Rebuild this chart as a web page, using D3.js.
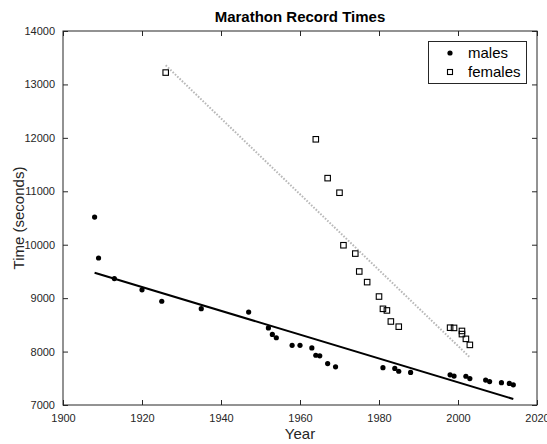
<!DOCTYPE html>
<html>
<head>
<meta charset="utf-8">
<script src="https://cdn.jsdelivr.net/npm/d3@7"></script>
<style>
  html, body { margin: 0; padding: 0; background: #fff; }
  svg { display: block; font-family: "Liberation Sans", Arial, sans-serif; }
</style>
</head>
<body>
<svg id="chart" width="547" height="444"></svg>
<script>
// World record progression, marathon (time in seconds)
const maleYears = [1908, 1909, 1913, 1920, 1925, 1935, 1947, 1952, 1953, 1954,
  1958, 1960, 1963, 1964, 1965, 1967, 1969, 1981, 1984, 1985,
  1988, 1998, 1999, 2002, 2003, 2007, 2008, 2011, 2013, 2014];
const maleTimes = [10518, 9751, 9367, 9156, 8942, 8802, 8739, 8442, 8320, 8259,
  8117, 8116, 8068, 7931, 7920, 7776, 7714, 7698, 7685, 7632,
  7610, 7565, 7542, 7538, 7495, 7466, 7439, 7418, 7403, 7377];

const femaleYears = [1926, 1964, 1967, 1970, 1971, 1974, 1975, 1977, 1980, 1981,
  1982, 1983, 1985, 1998, 1999, 2001, 2001, 2002, 2003];
const femaleTimes = [13222, 11973, 11246, 10973, 9990, 9834, 9499, 9300, 9030, 8800,
  8770, 8563, 8466, 8447, 8443, 8386, 8327, 8238, 8125];

const xTicks = [1900, 1920, 1940, 1960, 1980, 2000, 2020];
const yTicks = [7000, 8000, 9000, 10000, 11000, 12000, 13000, 14000];
const seriesNames = ["males", "females"];

const svg = d3.select("#chart");
const plot = { left: 63, right: 537, top: 31, bottom: 405 };
const axisColor = "#262626";

const x = d3.scaleLinear().domain([1900, 2020]).range([plot.left, plot.right]);
const y = d3.scaleLinear().domain([7000, 14000]).range([plot.bottom, plot.top]);

// least-squares line over the span of each series
function fitLine(xs, ys) {
  const mx = d3.mean(xs), my = d3.mean(ys);
  let sxy = 0, sxx = 0;
  xs.forEach((v, i) => { sxy += (v - mx) * (ys[i] - my); sxx += (v - mx) * (v - mx); });
  const b = sxy / sxx, a = my - b * mx;
  const x0 = d3.min(xs), x1 = d3.max(xs);
  return [[x0, a + b * x0], [x1, a + b * x1]];
}

const line = d3.line().x(d => x(d[0])).y(d => y(d[1]));

// axes: ticks inward on all four sides
const tickLen = 5;
svg.append("g").attr("transform", `translate(0,${plot.bottom})`)
  .call(d3.axisBottom(x).tickValues(xTicks).tickFormat(d3.format("d")).tickSizeInner(-tickLen).tickSizeOuter(0).tickPadding(9))
  .call(g => g.select(".domain").remove());
svg.append("g").attr("transform", `translate(0,${plot.top})`)
  .call(d3.axisTop(x).tickValues(xTicks).tickFormat("").tickSizeInner(-tickLen).tickSizeOuter(0))
  .call(g => g.select(".domain").remove());
svg.append("g").attr("transform", `translate(${plot.left},0)`)
  .call(d3.axisLeft(y).tickValues(yTicks).tickFormat(d3.format("d")).tickSizeInner(-tickLen).tickSizeOuter(0).tickPadding(8))
  .call(g => g.select(".domain").remove());
svg.append("g").attr("transform", `translate(${plot.right},0)`)
  .call(d3.axisRight(y).tickValues(yTicks).tickFormat("").tickSizeInner(-tickLen).tickSizeOuter(0))
  .call(g => g.select(".domain").remove());

svg.selectAll(".tick line").attr("stroke", axisColor);
svg.selectAll(".tick text").attr("fill", axisColor).style("font-size", "11px")
  .style("font-family", "'Liberation Sans', Arial, sans-serif");

svg.append("rect")
  .attr("x", plot.left).attr("y", plot.top)
  .attr("width", plot.right - plot.left).attr("height", plot.bottom - plot.top)
  .attr("fill", "none").attr("stroke", axisColor).attr("stroke-width", 1);

// trend lines
svg.append("path").datum(fitLine(maleYears, maleTimes))
  .attr("d", line).attr("fill", "none").attr("stroke", "#000").attr("stroke-width", 2);
svg.append("path").datum(fitLine(femaleYears, femaleTimes))
  .attr("d", line).attr("fill", "none").attr("stroke", "#b8b8b8")
  .attr("stroke-width", 2).attr("stroke-dasharray", "1.6,1.6");

// markers
svg.append("g").selectAll("circle").data(maleYears.map((v, i) => [v, maleTimes[i]]))
  .join("circle").attr("cx", d => x(d[0])).attr("cy", d => y(d[1])).attr("r", 2.6).attr("fill", "#000");

const sq = 5.5;
svg.append("g").selectAll("rect").data(femaleYears.map((v, i) => [v, femaleTimes[i]]))
  .join("rect").attr("x", d => x(d[0]) - sq / 2).attr("y", d => y(d[1]) - sq / 2)
  .attr("width", sq).attr("height", sq).attr("fill", "none").attr("stroke", "#000").attr("stroke-width", 1.1);

// title and axis labels
svg.append("text").attr("x", (plot.left + plot.right) / 2).attr("y", 22)
  .attr("text-anchor", "middle").style("font-size", "15px").style("font-weight", "bold").attr("fill", "#000")
  .text("Marathon Record Times");
svg.append("text").attr("x", (plot.left + plot.right) / 2).attr("y", 439)
  .attr("text-anchor", "middle").style("font-size", "15px").attr("fill", axisColor).text("Year");
svg.append("text").attr("transform", `translate(24,${(plot.top + plot.bottom) / 2}) rotate(-90)`)
  .attr("text-anchor", "middle").style("font-size", "15px").attr("fill", axisColor).text("Time (seconds)");

// legend
const lg = svg.append("g");
lg.append("rect").attr("x", 428.5).attr("y", 41.5).attr("width", 98).attr("height", 42)
  .attr("fill", "#fff").attr("stroke", axisColor).attr("stroke-width", 1);
lg.append("circle").attr("cx", 450).attr("cy", 53).attr("r", 2.6).attr("fill", "#000");
lg.append("rect").attr("x", 447.5).attr("y", 69.5).attr("width", 5).attr("height", 5)
  .attr("fill", "none").attr("stroke", "#000").attr("stroke-width", 1.1);
lg.selectAll("text.lab").data(seriesNames).join("text").attr("class", "lab")
  .attr("x", 468).attr("y", (d, i) => 58 + i * 18.5)
  .style("font-size", "15px").attr("fill", "#000").text(d => d);
</script>
</body>
</html>
